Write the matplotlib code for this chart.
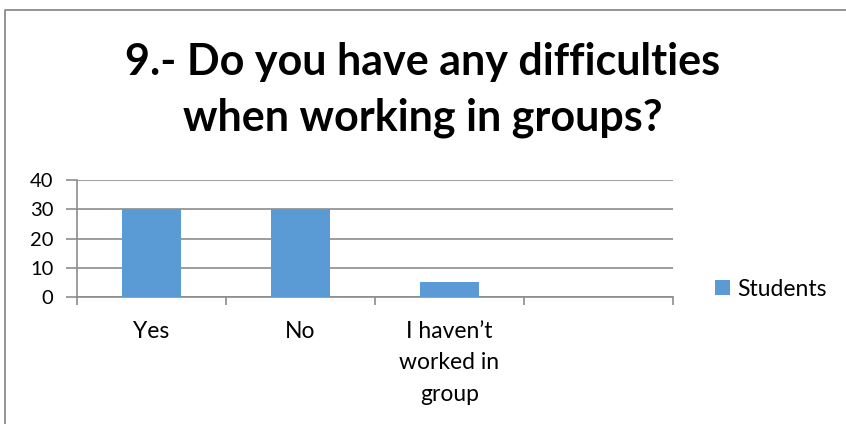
import matplotlib.pyplot as plt
from matplotlib.lines import Line2D

categories = ["Yes", "No", "I haven\u2019t\nworked in\ngroup", ""]
students = [30, 30, 5, 0]
yticks = [0, 10, 20, 30, 40]
title_lines = ["9.- Do you have any difficulties", "when working in groups?"]

plt.rcParams["font.family"] = ["Lato", "DejaVu Sans"]

W, H = 846, 424
fig = plt.figure(figsize=(W / 100, H / 100), dpi=100)

# chart frame: left and top edges, the rest runs off the canvas
frame_x = [5 / W, 5 / W, 1.0]
frame_y = [0.0, 1 - 10 / H, 1 - 10 / H]
fig.lines.append(Line2D(frame_x, frame_y, transform=fig.transFigure,
                        color="#8c8c8c", linewidth=1.3))

ax = fig.add_axes([77 / W, 1 - 297 / H, (673 - 77) / W, (297 - 180) / H])

x = list(range(len(categories)))
ax.bar([i + 0.5 for i in x], students, width=0.4, color="#5B9BD5",
       label="Students", zorder=3)

ax.set_xlim(0, 4)
ax.set_ylim(0, 40)
ax.set_yticks(yticks)
ax.set_yticklabels([str(v) for v in yticks], fontsize=14.5)
ax.yaxis.grid(True, color="#8c8c8c", linewidth=1.2, zorder=0)
ax.tick_params(axis="y", length=8, color="#8c8c8c", width=1.2, pad=9)

# category ticks on the boundaries, labels centred below
ax.set_xticks([0, 1, 2, 3, 4])
ax.set_xticklabels([])
ax.set_xticks([i + 0.5 for i in x], minor=True)
ax.set_xticklabels(categories, minor=True, fontsize=16.5, linespacing=1.63,
                   va="top")
ax.tick_params(axis="x", which="major", length=6, color="#8c8c8c", width=1.2)
ax.tick_params(axis="x", which="minor", length=0, pad=17)

for side in ["top", "right"]:
    ax.spines[side].set_visible(False)
for side in ["left", "bottom"]:
    ax.spines[side].set_color("#8c8c8c")
    ax.spines[side].set_linewidth(1.2)

# two-line title, one baseline per line
for line, base in zip(title_lines, [75, 130]):
    fig.text(423 / W, 1 - base / H, line, ha="center", va="baseline",
             fontsize=31, fontweight="bold")

ax.legend(loc="center left", bbox_to_anchor=(715 / W, 1 - 289 / H),
          bbox_transform=fig.transFigure, frameon=False, fontsize=16.5,
          handlelength=0.65, handleheight=0.65, handletextpad=0.3,
          borderpad=0, borderaxespad=0)

fig.savefig("out.png", dpi=100)
